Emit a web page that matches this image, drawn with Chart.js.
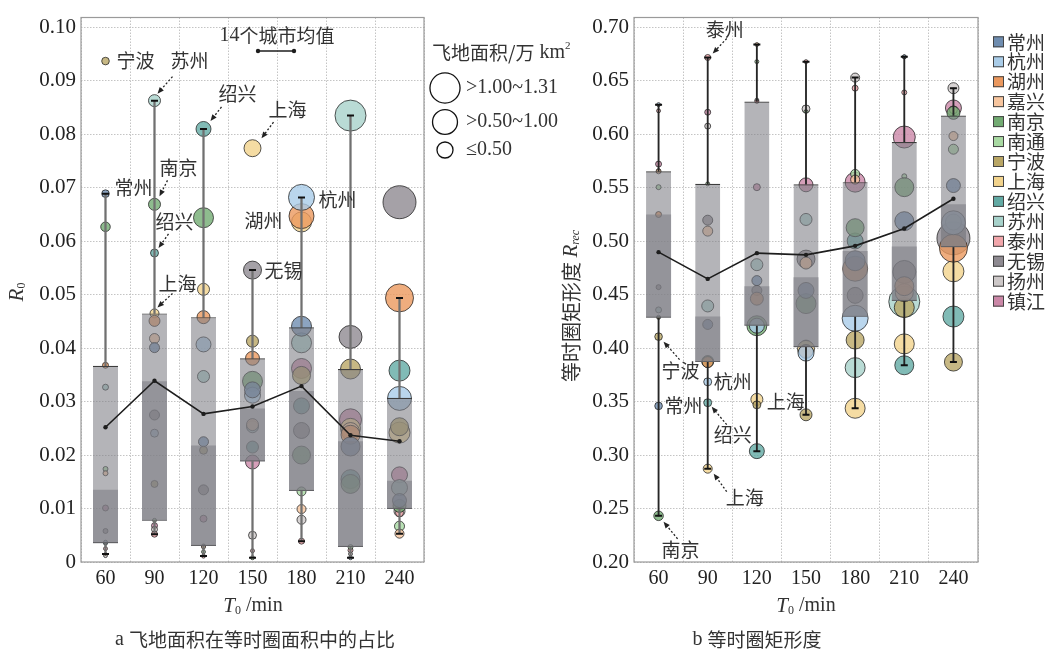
<!DOCTYPE html>
<html>
<head>
<meta charset="utf-8">
<script src="https://cdn.jsdelivr.net/npm/chart.js@4.4.1/dist/chart.umd.min.js"></script>
<style>
  html, body { margin: 0; padding: 0; background: #fff; }
  #wrap { position: relative; width: 1048px; height: 652px; overflow: hidden; }
  #ca { position: absolute; left: 0; top: 0; }
  #cb { position: absolute; left: 545px; top: 0; }
</style>
</head>
<body>
<div id="wrap">
  <canvas id="ca" width="575" height="652" style="width:575px;height:652px"></canvas>
  <canvas id="cb" width="503" height="652" style="width:503px;height:652px"></canvas>
</div>
<script>
(function () {
    "use strict";

    // T0 (min) and the 14 cities
    const T0 = ['60', '90', '120', '150', '180', '210', '240'];
    const cities = ['常州', '杭州', '湖州', '嘉兴', '南京', '南通', '宁波', '上海', '绍兴', '苏州', '泰州', '无锡', '扬州', '镇江'];

    // 飞地面积 (万 km2), one list per T0, same order as cities
    const area60  = [0.070, 0.019, 0.043, 0.030, 0.110, 0.030, 0.070, 0.011, 0.019, 0.043, 0.019, 0.030, 0.019, 0.043];
    const area90  = [0.121, 0.077, 0.146, 0.121, 0.174, 0.019, 0.059, 0.098, 0.077, 0.174, 0.043, 0.121, 0.043, 0.043];
    const area120 = [0.121, 0.271, 0.204, 0.019, 0.482, 0.019, 0.077, 0.174, 0.271, 0.174, 0.019, 0.121, 0.019, 0.059];
    const area150 = [0.309, 0.309, 0.236, 0.174, 0.482, 0.019, 0.174, 0.348, 0.174, 0.174, 0.019, 0.391, 0.077, 0.236];
    const area180 = [0.482, 0.815, 0.754, 0.098, 0.391, 0.098, 0.391, 0.482, 0.309, 0.482, 0.043, 0.309, 0.098, 0.482];
    const area210 = [0.435, 0.019, 0.435, 0.391, 0.435, 0.030, 0.482, 0.482, 0.435, 1.159, 0.030, 0.638, 0.019, 0.584];
    const area240 = [0.236, 0.694, 0.945, 0.098, 0.204, 0.121, 0.391, 0.532, 0.532, 0.309, 0.077, 1.313, 0.146, 0.309];

    // a: R0, 飞地面积在等时圈面积中的占比
    const r0_60  = [0.0689, 0.0037, 0.0368, 0.0166, 0.0627, 0.0174, 0.0937, 0.0015, 0.0035, 0.0327, 0.0025, 0.0058, 0.0012, 0.0101];
    const r0_90  = [0.0401, 0.0241, 0.0451, 0.0418, 0.0669, 0.0078, 0.0146, 0.0465, 0.0578, 0.0863, 0.0052, 0.0275, 0.0061, 0.0068];
    const r0_120 = [0.0225, 0.0407, 0.0458, 0.0028, 0.0644, 0.0019, 0.0209, 0.0510, 0.0810, 0.0347, 0.0011, 0.0135, 0.0030, 0.0081];
    const r0_150 = [0.0322, 0.0312, 0.0381, 0.0257, 0.0338, 0.0008, 0.0413, 0.0774, 0.0215, 0.0253, 0.0021, 0.0546, 0.0050, 0.0187];
    const r0_180 = [0.0441, 0.0682, 0.0647, 0.0099, 0.0200, 0.0132, 0.0349, 0.0636, 0.0292, 0.0410, 0.0039, 0.0246, 0.0079, 0.0362];
    const r0_210 = [0.0216, 0.0008, 0.0238, 0.0244, 0.0146, 0.0028, 0.0361, 0.0250, 0.0155, 0.0835, 0.0022, 0.0421, 0.0015, 0.0266];
    const r0_240 = [0.0115, 0.0306, 0.0494, 0.0053, 0.0105, 0.0067, 0.0253, 0.0242, 0.0358, 0.0139, 0.0092, 0.0673, 0.0095, 0.0163];

    // b: Rrec, 等时圈矩形度
    const rec60  = [0.346, 0.6278, 0.525, 0.5654, 0.2432, 0.5506, 0.4108, 0.4284, 0.4290, 0.4358, 0.622, 0.4571, 0.5660, 0.5722];
    const rec90  = [0.4222, 0.3685, 0.387, 0.5095, 0.3875, 0.5537, 0.3880, 0.2873, 0.349, 0.4395, 0.6719, 0.5197, 0.6077, 0.6207];
    const rec120 = [0.4632, 0.421, 0.4463, 0.684, 0.421, 0.668, 0.347, 0.3521, 0.3037, 0.4781, 0.6308, 0.454, 0.6320, 0.5506];
    const rec150 = [0.454, 0.3954, 0.397, 0.4796, 0.4417, 0.6213, 0.3377, 0.3993, 0.4020, 0.5204, 0.668, 0.4833, 0.6238, 0.5528];
    const rec180 = [0.4818, 0.428, 0.4743, 0.5577, 0.5127, 0.563, 0.4076, 0.3438, 0.5003, 0.3818, 0.6432, 0.4494, 0.6531, 0.5553];
    const rec210 = [0.5188, 0.6725, 0.458, 0.4519, 0.5506, 0.5608, 0.438, 0.404, 0.384, 0.4435, 0.6392, 0.4713, 0.6725, 0.5975];
    const rec240 = [0.5521, 0.5173, 0.4935, 0.5984, 0.6201, 0.5861, 0.387, 0.4719, 0.4296, 0.5180, 0.6230, 0.5028, 0.6432, 0.6247];

    // box plot stats per T0
    const q1A   = [0.0035, 0.0077, 0.0030, 0.0188, 0.0133, 0.0028, 0.0099];
    const medA  = [0.0135, 0.0338, 0.0218, 0.0287, 0.0320, 0.0226, 0.0152];
    const q3A   = [0.0367, 0.0465, 0.0458, 0.0381, 0.0439, 0.0361, 0.0307];
    const loA   = [0.0015, 0.0052, 0.0011, 0.0008, 0.0039, 0.0008, 0.0053];
    const hiA   = [0.0689, 0.0863, 0.0810, 0.0546, 0.0682, 0.0835, 0.0494];
    const meanA = [0.0252, 0.0339, 0.0277, 0.0291, 0.0329, 0.0237, 0.0226];

    const q1B   = [0.4284, 0.3870, 0.4210, 0.4009, 0.4293, 0.4441, 0.4944];
    const medB  = [0.5250, 0.4296, 0.4580, 0.4664, 0.4910, 0.4951, 0.5346];
    const q3B   = [0.5654, 0.5537, 0.6308, 0.5534, 0.5553, 0.5929, 0.6176];
    const loB   = [0.2432, 0.2873, 0.3037, 0.3377, 0.3438, 0.3840, 0.3870];
    const hiB   = [0.6278, 0.6719, 0.6840, 0.6680, 0.6531, 0.6725, 0.6432];
    const meanB = [0.4898, 0.4648, 0.4889, 0.4873, 0.4957, 0.5120, 0.5398];

    // tick labels
    const yTicksA = [0, 0.01, 0.02, 0.03, 0.04, 0.05, 0.06, 0.07, 0.08, 0.09, 0.10];
    const yTicksB = [0.20, 0.25, 0.30, 0.35, 0.40, 0.45, 0.50, 0.55, 0.60, 0.65, 0.70];

    // bubble size legend classes
    const sizeClassLabels = ['>1.00~1.31', '>0.50~1.00', '≤0.50'];
    const sizeClassArea   = [1.09, 0.75, 0.31];

    const areaByT = [area60, area90, area120, area150, area180, area210, area240];
    const r0ByT = [r0_60, r0_90, r0_120, r0_150, r0_180, r0_210, r0_240];
    const recByT = [rec60, rec90, rec120, rec150, rec180, rec210, rec240];

    const cityColors = ['#6f8db0', '#a9cce8', '#eb985e', '#f7c59e', '#72ab72', '#a8d9a2', '#b9a665',
        '#f2d38c', '#62aaa4', '#a7d2cb', '#f2a6ab', '#8e8a91', '#cdc8c8', '#cb87a7'];

    const SERIF = "'Liberation Serif', 'Times New Roman', serif";
    const CJK = "'Noto Sans CJK SC', sans-serif";
    const TXT = '#333';

    function rOf(a) { return 14.4 * Math.sqrt(a); }

    function rgba(hex, a) {
        const n = parseInt(hex.slice(1), 16);
        return 'rgba(' + (n >> 16) + ',' + ((n >> 8) & 255) + ',' + (n & 255) + ',' + a + ')';
    }

    function bubbleSets(valuesByT) {
        return cities.map(function (c, ci) {
            return {
                type: 'bubble',
                label: c,
                order: 10,
                data: T0.map(function (t, ti) {
                    return { x: t, y: valuesByT[ti][ci], r: rOf(areaByT[ti][ci]) };
                }),
                backgroundColor: rgba(cityColors[ci], 0.8),
                borderColor: 'rgba(30,30,30,0.75)',
                borderWidth: 1
            };
        });
    }

    // whiskers (box edge to cap) sit under the box, caps and mean line above it
    function boxSets(q1, med, q3, lo, hi, mean, whisker, whiskerW) {
        const box = 'rgba(125,125,132,0.58)';
        return [
            {
                type: 'bar', order: 7, grouped: false, barThickness: whiskerW,
                data: T0.map(function (t, i) { return [q3[i], hi[i]]; }),
                backgroundColor: whisker, borderWidth: 0
            },
            {
                type: 'bar', order: 7, grouped: false, barThickness: whiskerW,
                data: T0.map(function (t, i) { return [lo[i], q1[i]]; }),
                backgroundColor: whisker, borderWidth: 0
            },
            {
                type: 'bar', order: 5, grouped: false, barPercentage: 0.51, categoryPercentage: 1,
                data: T0.map(function (t, i) { return [q1[i], q3[i]]; }),
                backgroundColor: box, borderColor: '#3c3c3c',
                borderWidth: { top: 1.2, bottom: 1.2, left: 0, right: 0 }, borderSkipped: false
            },
            {
                type: 'bar', order: 4, grouped: false, barPercentage: 0.51, categoryPercentage: 1,
                data: T0.map(function (t, i) { return [q1[i], med[i]]; }),
                backgroundColor: box, borderWidth: 0
            },
            {
                type: 'scatter', order: 2, showLine: false,
                data: T0.flatMap(function (t, i) { return [{ x: t, y: lo[i] }, { x: t, y: hi[i] }]; }),
                pointStyle: 'line', pointRadius: 3.5, borderColor: '#111', borderWidth: 2
            },
            {
                type: 'line', order: 1, data: mean,
                borderColor: '#1e1e1e', borderWidth: 1.6, tension: 0,
                pointRadius: 2.2, pointBackgroundColor: '#1e1e1e', pointBorderWidth: 0
            }
        ];
    }

    function drawParts(ctx, parts, x, y, align) {
        let w = 0;
        parts.forEach(function (p) { ctx.font = p[1]; w += ctx.measureText(p[0]).width; });
        let cx = align === 'center' ? x - w / 2 : (align === 'right' ? x - w : x);
        ctx.textAlign = 'left';
        ctx.textBaseline = 'middle';
        parts.forEach(function (p) {
            ctx.font = p[1];
            ctx.fillText(p[0], cx, y + (p[2] || 0));
            cx += ctx.measureText(p[0]).width;
        });
    }

    function arrow(ctx, x1, y1, x2, y2) {
        const ang = Math.atan2(y2 - y1, x2 - x1);
        ctx.save();
        ctx.strokeStyle = '#222';
        ctx.fillStyle = '#222';
        ctx.lineWidth = 1.3;
        ctx.setLineDash([2, 2]);
        ctx.beginPath();
        ctx.moveTo(x1, y1);
        ctx.lineTo(x2 - 5 * Math.cos(ang), y2 - 5 * Math.sin(ang));
        ctx.stroke();
        ctx.setLineDash([]);
        ctx.beginPath();
        ctx.moveTo(x2, y2);
        ctx.lineTo(x2 - 7 * Math.cos(ang - 0.4), y2 - 7 * Math.sin(ang - 0.4));
        ctx.lineTo(x2 - 7 * Math.cos(ang + 0.4), y2 - 7 * Math.sin(ang + 0.4));
        ctx.closePath();
        ctx.fill();
        ctx.restore();
    }

    function drawNotes(chart, notes, valuesByT) {
        const ctx = chart.ctx, xs = chart.scales.x, ys = chart.scales.y;
        notes.forEach(function (n) {
            const ti = T0.indexOf(n.t), ci = cities.indexOf(n.city);
            const px = xs.getPixelForValue(ti), py = ys.getPixelForValue(valuesByT[ti][ci]);
            ctx.fillStyle = TXT;
            ctx.font = '19px ' + CJK;
            ctx.textAlign = n.align || 'center';
            ctx.textBaseline = 'middle';
            ctx.fillText(n.city, px + n.dx, py + n.dy);
            if (n.arrow) {
                arrow(ctx, px + n.arrow[0], py + n.arrow[1], px + n.arrow[2], py + n.arrow[3]);
            }
        });
    }

    // labels next to points: offsets from the point
    const notesA = [
        { city: '宁波', t: '60', dx: 11, dy: 0, align: 'left' },
        { city: '常州', t: '60', dx: 9, dy: -6, align: 'left' },
        { city: '苏州', t: '90', dx: 35, dy: -40, arrow: [18, -24, 3, -7] },
        { city: '南京', t: '90', dx: 24, dy: -37, arrow: [13, -24, 5, -8] },
        { city: '绍兴', t: '90', dx: 20, dy: -31, arrow: [14, -19, 4, -5] },
        { city: '上海', t: '90', dx: 23, dy: -30, arrow: [18, -20, 3, -6] },
        { city: '绍兴', t: '120', dx: 34, dy: -35, arrow: [18, -22, 7, -8] },
        { city: '上海', t: '150', dx: 35, dy: -38, arrow: [21, -26, 9, -10] },
        { city: '无锡', t: '150', dx: 31, dy: 1 },
        { city: '湖州', t: '180', dx: -38, dy: 5 },
        { city: '杭州', t: '180', dx: 36, dy: 2 }
    ];
    const notesB = [
        { city: '泰州', t: '90', dx: 17, dy: -28, arrow: [19, -19, 5, -4] },
        { city: '宁波', t: '60', dx: 22, dy: 34, arrow: [21, 23, 5, 5] },
        { city: '常州', t: '60', dx: 6, dy: 0, align: 'left' },
        { city: '南京', t: '60', dx: 22, dy: 34, arrow: [19, 23, 5, 6] },
        { city: '杭州', t: '90', dx: 6, dy: 0, align: 'left' },
        { city: '绍兴', t: '90', dx: 25, dy: 32, arrow: [19, 22, 4, 4] },
        { city: '上海', t: '90', dx: 37, dy: 29, arrow: [19, 23, 6, 5] },
        { city: '上海', t: '120', dx: 10, dy: 2, align: 'left' }
    ];

    function frame(chart) {
        const a = chart.chartArea, ctx = chart.ctx;
        ctx.save();
        ctx.strokeStyle = '#9a9a9a';
        ctx.lineWidth = 1.2;
        ctx.strokeRect(a.left, a.top, a.right - a.left, a.bottom - a.top);
        ctx.restore();
    }

    const overlayA = {
        id: 'overlayA',
        beforeDatasetsDraw: frame,
        afterDraw: function (chart) {
            const ctx = chart.ctx;
            ctx.save();
            drawNotes(chart, notesA, r0ByT);

            // mean legend
            ctx.fillStyle = TXT;
            drawParts(ctx, [['14', '20px ' + SERIF], ['个城市均值', '19px ' + CJK]], 277, 36, 'center');
            ctx.strokeStyle = '#1e1e1e';
            ctx.lineWidth = 1.6;
            ctx.beginPath(); ctx.moveTo(258, 51); ctx.lineTo(294, 51); ctx.stroke();
            ctx.fillStyle = '#1e1e1e';
            [258, 294].forEach(function (x) { ctx.beginPath(); ctx.arc(x, 51, 2.2, 0, Math.PI * 2); ctx.fill(); });

            // size legend
            ctx.fillStyle = TXT;
            drawParts(ctx, [['飞地面积/万', '19px ' + CJK], [' km', '20px ' + SERIF], ['2', '11px ' + SERIF, -7]], 432, 53, 'left');
            const cy = [88, 122, 150];
            sizeClassLabels.forEach(function (lab, i) {
                ctx.strokeStyle = '#111';
                ctx.lineWidth = 1.3;
                ctx.beginPath(); ctx.arc(445, cy[i], rOf(sizeClassArea[i]), 0, Math.PI * 2); ctx.stroke();
                ctx.fillStyle = TXT;
                drawParts(ctx, [[lab, '20px ' + SERIF]], 466, cy[i], 'left');
            });

            // axis titles and caption
            ctx.save();
            ctx.translate(17, 292);
            ctx.rotate(-Math.PI / 2);
            drawParts(ctx, [['R', 'italic 21px ' + SERIF], ['0', '12px ' + SERIF, 5]], 0, 0, 'center');
            ctx.restore();
            drawParts(ctx, [['T', 'italic 21px ' + SERIF], ['0', '12px ' + SERIF, 5], [' /min', '20px ' + SERIF]], 253, 606, 'center');
            drawParts(ctx, [['a ', '20px ' + SERIF], ['飞地面积在等时圈面积中的占比', '19px ' + CJK]], 255, 640, 'center');
            ctx.restore();
        }
    };

    const overlayB = {
        id: 'overlayB',
        beforeDatasetsDraw: frame,
        afterDraw: function (chart) {
            const ctx = chart.ctx;
            ctx.save();
            drawNotes(chart, notesB, recByT);

            // city legend
            cities.forEach(function (c, i) {
                const y = 42.3 + 19.95 * i;
                ctx.fillStyle = cityColors[i];
                ctx.fillRect(448, y - 6, 11, 11);
                ctx.strokeStyle = '#444';
                ctx.lineWidth = 1;
                ctx.strokeRect(448.5, y - 5.5, 10, 10);
                ctx.fillStyle = TXT;
                drawParts(ctx, [[c, '19px ' + CJK]], 462, y, 'left');
            });

            ctx.fillStyle = TXT;
            ctx.save();
            ctx.translate(26, 306);
            ctx.rotate(-Math.PI / 2);
            drawParts(ctx, [['等时圈矩形度 ', '20px ' + CJK], ['R', 'italic 21px ' + SERIF], ['rec', 'italic 12px ' + SERIF, 5]], 0, 0, 'center');
            ctx.restore();
            drawParts(ctx, [['T', 'italic 21px ' + SERIF], ['0', '12px ' + SERIF, 5], [' /min', '20px ' + SERIF]], 261, 606, 'center');
            drawParts(ctx, [['b ', '20px ' + SERIF], ['等时圈矩形度', '19px ' + CJK]], 212, 640, 'center');
            ctx.restore();
        }
    };

    function makeOptions(yMin, yMax, ticks, fmt, yWidth, padRight) {
        return {
            responsive: false,
            animation: false,
            layout: { padding: { left: 0, top: 11, right: padRight, bottom: 60 } },
            plugins: { legend: { display: false }, tooltip: { enabled: false } },
            scales: {
                x: {
                    type: 'category',
                    offset: true,
                    grid: { offset: true, color: '#c4c4c4', lineWidth: 1, drawTicks: false },
                    border: { display: false, dash: [1.5, 1.5] },
                    ticks: { color: '#222', padding: 7, font: { family: SERIF, size: 20, lineHeight: 1 } },
                    afterFit: function (s) { s.height = 30; }
                },
                y: {
                    type: 'linear',
                    min: yMin,
                    max: yMax,
                    grid: { color: '#c4c4c4', lineWidth: 1, drawTicks: false },
                    border: { display: false, dash: [1.5, 1.5] },
                    ticks: {
                        color: '#222', padding: 5, font: { family: SERIF, size: 21, lineHeight: 1 },
                        callback: fmt
                    },
                    afterBuildTicks: function (s) { s.ticks = ticks.map(function (v) { return { value: v }; }); },
                    afterFit: function (s) { s.width = yWidth; }
                }
            }
        };
    }

    new Chart(document.getElementById('ca'), {
        type: 'bar',
        data: {
            labels: T0,
            datasets: bubbleSets(r0ByT).concat(boxSets(q1A, medA, q3A, loA, hiA, meanA, '#707070', 1.6))
        },
        options: makeOptions(0, 0.10185, yTicksA, function (v) { return v === 0 ? '0' : v.toFixed(2); }, 81, 151),
        plugins: [overlayA]
    });

    new Chart(document.getElementById('cb'), {
        type: 'bar',
        data: {
            labels: T0,
            datasets: bubbleSets(recByT).concat(boxSets(q1B, medB, q3B, loB, hiB, meanB, '#262626', 1.2))
        },
        options: makeOptions(0.20, 0.7093, yTicksB, function (v) { return v.toFixed(2); }, 89, 70),
        plugins: [overlayB]
    });
})();
</script>
</body>
</html>
